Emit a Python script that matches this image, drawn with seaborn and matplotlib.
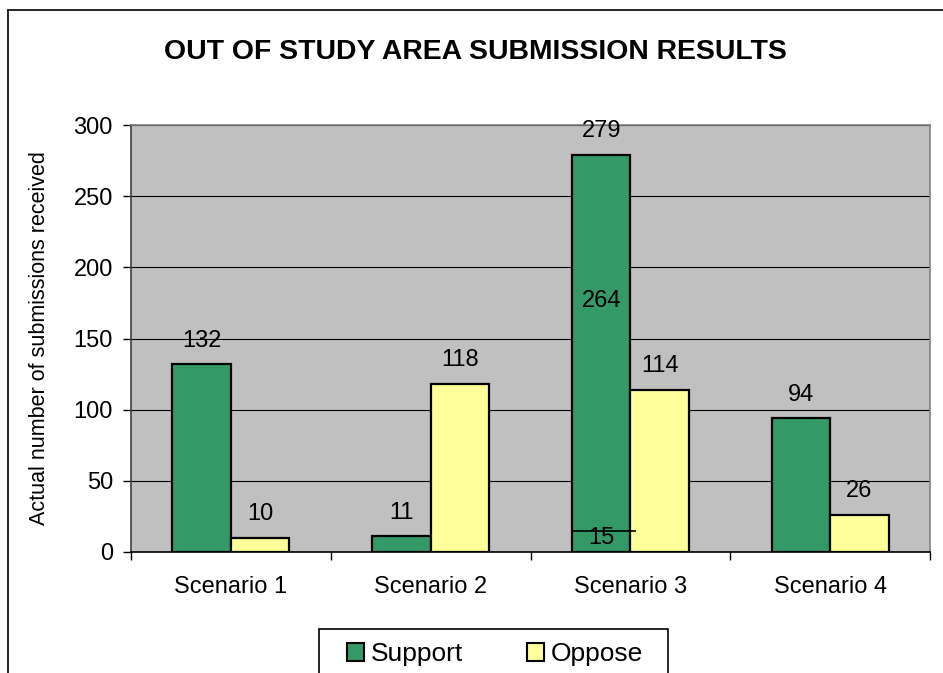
import pandas as pd
import matplotlib.pyplot as plt
from matplotlib.lines import Line2D
from matplotlib.patches import Rectangle
from matplotlib.ticker import FixedLocator
import seaborn as sns

# chart values
scenarios = ['Scenario 1', 'Scenario 2', 'Scenario 3', 'Scenario 4']
support = [132, 11, 279, 94]
oppose = [10, 118, 114, 26]
# scenario 3 support bar is drawn as two pieces in the original
s3_lower = 15
s3_upper = 264

green = '#339966'
yellow = '#FFFF99'

df = pd.DataFrame({
    'Scenario': scenarios * 2,
    'Series': ['Support'] * 4 + ['Oppose'] * 4,
    'Count': support + oppose,
})

sns.set_style('white')
plt.rcParams['font.family'] = ['Liberation Sans', 'DejaVu Sans']
for key in ['text.color', 'axes.labelcolor', 'xtick.color', 'ytick.color']:
    plt.rcParams[key] = 'black'

fig = plt.figure(figsize=(9.43, 6.73), dpi=100)
ax = fig.add_axes([131 / 943, 1 - 552 / 673, 799 / 943, 427 / 673])

sns.barplot(data=df, x='Scenario', y='Count', hue='Series',
            palette={'Support': green, 'Oppose': yellow},
            width=0.585, edgecolor='black', linewidth=1.6,
            saturation=1, ax=ax, legend=False, zorder=3)

ax.set_facecolor('#C0C0C0')
ax.set_ylim(0, 300)
ax.set_xlim(-0.5, 3.5)
ax.set_yticks(range(0, 301, 50))
ax.yaxis.grid(True, color='black', linewidth=0.8, zorder=0)
ax.set_axisbelow(True)

for side in ['top', 'right']:
    ax.spines[side].set_color('#808080')
    ax.spines[side].set_linewidth(1.2)
ax.spines['left'].set_color('#404040')
ax.spines['bottom'].set_color('black')
ax.spines['left'].set_linewidth(1.2)
ax.spines['bottom'].set_linewidth(1.2)

ax.tick_params(axis='y', direction='out', length=6, width=1, color='black',
               labelsize=17, pad=7, left=True)
ax.tick_params(axis='x', which='major', length=0, labelsize=17, pad=17)
ax.xaxis.set_minor_locator(FixedLocator([-0.5, 0.5, 1.5, 2.5, 3.5]))
ax.tick_params(axis='x', which='minor', direction='out', length=6, width=1,
               color='black', bottom=True)

ax.set_xlabel('')
ax.set_ylabel('Actual number of submissions received', fontsize=15.5)
ax.yaxis.set_label_coords(-0.101, 0.5)

# value labels above bars
for container in ax.containers:
    for bar in container:
        h = bar.get_height()
        ax.annotate(f'{int(h)}', (bar.get_x() + bar.get_width() / 2, h),
                    xytext=(0, 17), textcoords='offset points',
                    ha='center', va='center', fontsize=17, zorder=5)

# split marker and inner labels on scenario 3 support bar
bar3 = ax.containers[0][2]
x0 = bar3.get_x()
w = bar3.get_width()
ax.hlines(s3_lower, x0, x0 + w * 1.1, color='black', linewidth=1.2, zorder=4)
ax.annotate(f'{s3_lower}', (x0 + w / 2, s3_lower), xytext=(0, -5),
            textcoords='offset points', ha='center', va='center', fontsize=17)
ax.text(x0 + w / 2, s3_lower + s3_upper * 0.61, f'{s3_upper}',
        ha='center', va='center', fontsize=17, zorder=5)

fig.text(475 / 943, 1 - 52 / 673, 'OUT OF STUDY AREA SUBMISSION RESULTS',
         ha='center', va='center', fontsize=20.4, fontweight='bold')

# outer chart border (top and left visible)
fig.add_artist(Line2D([8 / 943, 1.0], [1 - 10 / 673, 1 - 10 / 673],
                      color='black', linewidth=1.2))
fig.add_artist(Line2D([8 / 943, 8 / 943], [0, 1 - 10 / 673],
                      color='black', linewidth=1.2))

# legend box runs off the bottom of the image
fig.add_artist(Rectangle((319 / 943, -0.05), 349 / 943, 0.05 + 44 / 673,
                         transform=fig.transFigure, facecolor='white',
                         edgecolor='black', linewidth=1.2))

handles = [plt.Rectangle((0, 0), 1, 1, facecolor=green, edgecolor='black', linewidth=1.5),
           plt.Rectangle((0, 0), 1, 1, facecolor=yellow, edgecolor='black', linewidth=1.5)]
leg = fig.legend(handles, ['Support', 'Oppose'], loc='center',
                 bbox_to_anchor=(495 / 943, 19 / 673), ncol=2,
                 fontsize=19, frameon=False,
                 handlelength=0.65, handleheight=0.65, handletextpad=0.25,
                 columnspacing=2.4, borderpad=0, borderaxespad=0)

fig.savefig('out.png', dpi=100)
